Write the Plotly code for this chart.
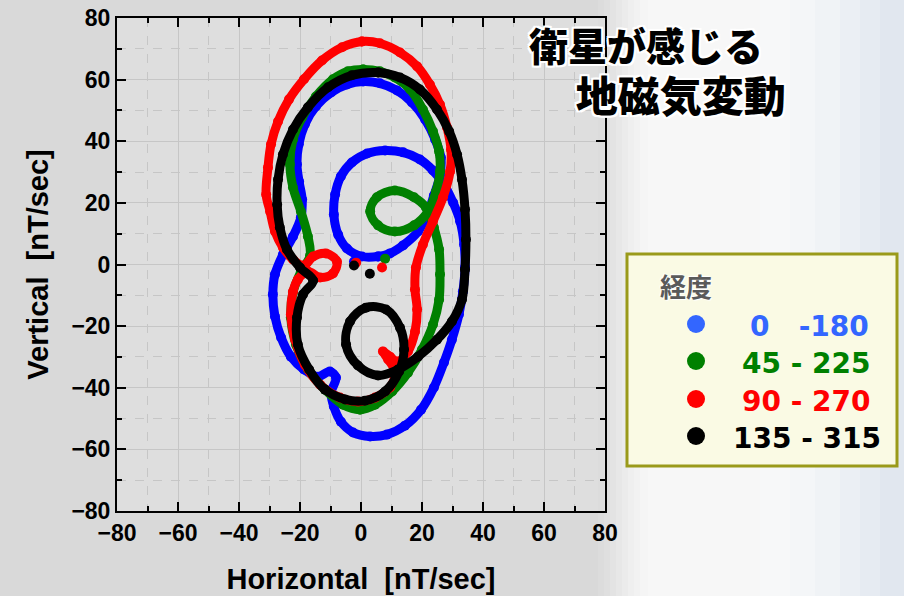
import plotly.graph_objects as go

# ---------------- data ----------------
blue_x = [5.6, 0.3, -4.6, -7.5, -8.9, -8.5, -6.6, -3.0, 2.0, 7.9, 13.8, 19.3, 23.6, 27.2, 30.2, 32.5, 33.8, 34.1,
          33.4, 32.1, 29.8, 27.2, 23.9, 19.7, 14.4, 8.5, 3.0, -2.6, -6.6, -8.9, -9.8, -8.2, -10.2, -14.1, -18.7,
          -23.0, -26.2, -28.2, -28.9, -28.2, -25.6, -22.3, -19.7, -19.3, -20.3, -21.0, -20.4, -18.4, -14.8, -9.8,
          -4.6, 0.7, 6.2, 11.8, 16.7, 21.0, 24.3, 26.2, 25.9, 23.9, 22.0, 18.7, 13.8, 9.5, 5.6]
blue_y = [2.6, 2.6, 5.2, 9.7, 16.2, 22.7, 28.6, 33.1, 36.0, 37.0, 36.4, 34.1, 30.5, 26.0, 20.1, 14.0, 6.5, -1.0,
          -8.8, -16.2, -24.4, -31.8, -39.9, -47.1, -52.3, -55.2, -55.8, -54.5, -51.0, -46.1, -41.6, -36.7, -34.7,
          -36.4, -34.1, -29.9, -23.7, -16.9, -9.7, -3.2, 3.2, 9.1, 15.3, 21.1, 26.9, 32.5, 39.0, 45.5, 51.3, 55.8,
          58.4, 59.4, 58.8, 56.5, 52.6, 47.1, 40.6, 34.7, 28.9, 22.4, 16.9, 10.7, 6.2, 3.6, 2.6]

green_x = [0.7, 6.2, 11.1, 16.1, 20.3, 23.6, 25.6, 25.9, 24.6, 22.0, 17.4, 11.1, 5.6, 3.0, 5.2, 11.1, 17.4, 21.3,
           23.9, 25.6, 25.9, 25.6, 23.6, 20.0, 15.4, 10.2, 4.6, -0.3, -5.9, -11.8, -17.4, -21.3, -23.0, -22.3,
           -19.7, -16.7, -17.4, -19.7, -22.3, -23.3, -22.3, -19.3, -14.8, -9.2, -4.3, 0.7]
green_y = [63.3, 62.7, 60.7, 56.8, 50.3, 43.2, 36.7, 30.2, 23.7, 17.2, 12.7, 10.7, 12.7, 17.2, 21.8, 24.0, 21.8,
           18.5, 12.0, 4.9, -3.2, -11.4, -19.5, -27.6, -35.1, -41.2, -45.5, -47.1, -45.5, -40.6, -34.1, -26.0,
           -17.2, -9.1, -2.3, 2.9, 9.1, 17.2, 25.0, 32.5, 40.6, 47.7, 54.5, 60.1, 62.7, 63.3]

red_x = [0.3, 6.2, 12.8, 18.4, 22.6, 25.9, 28.2, 29.5, 29.2, 26.9, 23.6, 20.3, 18.0, 17.7, 18.4, 17.7, 15.4, 12.1,
         9.5, 7.2, 8.9, 11.1, 9.5, 4.6, -1.0, -6.9, -13.4, -18.4, -21.6, -23.0, -22.3, -20.7, -17.4, -13.4, -9.2,
         -7.9, -11.5, -15.7, -18.7, -22.3, -25.6, -28.2, -29.8, -31.1, -30.5, -29.5, -27.2, -23.6, -18.7, -12.8,
         -6.2, 0.3]
red_y = [72.4, 71.8, 68.8, 64.3, 58.4, 51.9, 44.5, 37.3, 30.2, 21.8, 14.0, 6.5, -1.0, -8.1, -14.6, -21.8, -28.2,
         -31.5, -29.9, -28.2, -30.8, -34.7, -39.9, -43.2, -44.5, -43.2, -39.0, -32.5, -24.4, -16.2, -8.8, -4.9,
         -2.3, -4.2, -2.9, 1.0, 3.6, 2.6, -0.3, 1.6, 5.5, 10.7, 17.2, 22.7, 31.5, 39.0, 46.4, 53.6, 60.1, 66.2,
         70.5, 72.4]

black_x = [5.6, 12.8, 19.3, 24.9, 28.9, 31.5, 33.1, 34.1, 34.4, 34.1, 33.1, 29.8, 24.9, 18.7, 12.1, 5.6, -1.0,
           -4.9, -3.6, 1.6, 8.2, 12.8, 14.1, 12.5, 7.9, 1.3, -5.2, -11.8, -17.0, -20.7, -21.0, -19.0, -15.7, -20.0,
           -24.3, -26.6, -27.5, -27.2, -25.6, -22.3, -17.4, -10.8, -3.0, 5.6]
black_y = [62.3, 60.7, 56.8, 50.3, 43.2, 35.7, 27.6, 17.9, 8.1, -1.6, -11.4, -18.5, -24.4, -29.9, -34.1, -36.0,
           -32.8, -26.0, -18.5, -14.0, -14.6, -20.5, -27.6, -34.7, -41.2, -44.2, -43.8, -40.6, -34.1, -26.0, -17.2,
           -9.7, -5.2, -1.0, 4.9, 12.0, 19.5, 27.6, 35.7, 43.8, 51.0, 57.5, 61.4, 62.3]

# isolated single points near the origin
dot_x = {"blue": [-2.3], "green": [7.9], "red": [-1.6, 6.9], "black": [-2.3, 2.9]}
dot_y = {"blue": [1.0], "green": [1.9], "red": [0.6, -1.0], "black": [-0.3, -3.0]}

legend_labels = ["0\u00a0\u00a0\u00a0-180", "45 - 225", "90 - 270", "135 - 315"]
legend_title = "経度"
title_line1 = "衛星が感じる"
title_line2 = "地磁気変動"
tick_vals = [-80, -60, -40, -20, 0, 20, 40, 60, 80]

# ---------------- figure ----------------
W, H = 904, 596
L, R, T, B = 117, 605, 18, 511


def px(x, y):
    return (x - L) / (R - L), (B - y) / (B - T)


series = [
    ("blue", blue_x, blue_y, "#0000ff"),
    ("green", green_x, green_y, "#008000"),
    ("red", red_x, red_y, "#ff0000"),
    ("black", black_x, black_y, "#000000"),
]

fig = go.Figure()
for name, xs, ys, col in series:
    fig.add_trace(go.Scatter(
        x=xs, y=ys, mode="lines+markers",
        line=dict(color=col, width=9, shape="spline", smoothing=1.0),
        marker=dict(color=col, size=10),
        showlegend=False, hoverinfo="skip"))
for name, xs, ys, col in series:
    fig.add_trace(go.Scatter(
        x=dot_x[name], y=dot_y[name], mode="markers",
        marker=dict(color=col, size=10), showlegend=False, hoverinfo="skip"))

shapes = []
# right-side light background gradient
grad = [(598, "#dcdcdc"), (604, "#dfdfdf"), (610, "#e3e3e3"), (616, "#e7e7e7"), (622, "#ebebeb"),
        (628, "#efefef"), (634, "#f2f2f2"), (640, "#f5f5f5"), (648, "#f7f7f7"), (760, "#f7f8f9"),
        (790, "#f4f6f8"), (815, "#f0f3f6"), (840, "#ebeff4"), (860, "#e6ebf2"), (880, "#e1e7ef"),
        (904, "#dce3ed")]
for i in range(len(grad) - 1):
    x0, c = grad[i]
    x1 = grad[i + 1][0]
    a0, _ = px(x0, 0)
    a1, _ = px(x1 + 1, 0)
    shapes.append(dict(type="rect", xref="paper", yref="paper", x0=a0, x1=a1,
                       y0=px(0, H + 2)[1], y1=px(0, -2)[1], fillcolor=c, line=dict(width=0),
                       layer="below"))

# legend box
bx0, by0 = px(627, 466)
bx1, by1 = px(897, 254)
shapes.append(dict(type="rect", xref="paper", yref="paper", x0=bx0, y0=by0, x1=bx1, y1=by1,
                   fillcolor="#fafae4", line=dict(color="#9a9a1a", width=3), layer="above"))

dot_cols = ["#3366ff", "#008000", "#ff0000", "#000000"]
dot_rows = [324, 361, 399, 436]
text_left = [748, 740, 740, 731]
text_cols = ["#3366ff", "#008000", "#ff0000", "#000000"]
annotations = []
for lab, cy, dc, tl, tc in zip(legend_labels, dot_rows, dot_cols, text_left, text_cols):
    cx0, cy0 = px(696 - 9, cy + 9)
    cx1, cy1 = px(696 + 9, cy - 9)
    shapes.append(dict(type="circle", xref="paper", yref="paper", x0=cx0, y0=cy0, x1=cx1, y1=cy1,
                       fillcolor=dc, line=dict(width=0), layer="above"))
    ax, ay = px(tl, cy + 2)
    annotations.append(dict(xref="paper", yref="paper", x=ax, y=ay, xanchor="left", yanchor="middle",
                            text=lab, showarrow=False,
                            font=dict(family="DejaVu Sans", size=28, color=tc, weight="bold")))

ax, ay = px(686, 286)
annotations.append(dict(xref="paper", yref="paper", x=ax, y=ay, xanchor="center", yanchor="middle",
                        text=legend_title, showarrow=False,
                        font=dict(family="Noto Sans CJK JP", size=26, color="#5a5a5a", weight="bold",
                                  shadow="1px 1px 1px #ffffff, -1px -1px 1px #ffffff")))

halo = ("2px 0 0 #fff, -2px 0 0 #fff, 0 2px 0 #fff, 0 -2px 0 #fff, "
        "2px 2px 0 #fff, -2px -2px 0 #fff, 2px -2px 0 #fff, -2px 2px 0 #fff")
title_text = title_line1 + "<br>\u3000\u2009<span style='font-size:42px'>" + title_line2 + "</span>"
ax, ay = px(527, 14)
annotations.append(dict(xref="paper", yref="paper", x=ax, y=ay, xanchor="left", yanchor="top",
                        align="left", text=title_text, showarrow=False,
                        font=dict(family="Noto Sans CJK JP", size=39, color="#000000", weight=900,
                                  shadow=halo)))

axis_common = dict(
    range=[-80, 80], tickmode="array", tickvals=tick_vals,
    ticktext=[str(v).replace("-", "\u2212") for v in tick_vals],
    ticks="inside", ticklen=9, tickwidth=2, tickcolor="#000000",
    showline=True, linewidth=2, linecolor="#000000", mirror="ticks",
    showgrid=True, gridcolor="#c6c6c6", gridwidth=1, zeroline=False, automargin=False,
    minor=dict(dtick=10, tick0=0, ticks="inside", ticklen=5, tickwidth=1.5, tickcolor="#000000",
               showgrid=True, gridcolor="#c6c6c6", griddash="dash", gridwidth=1),
    tickfont=dict(family="Liberation Sans", size=23, color="#000000", weight="bold"),
)

fig.update_layout(
    width=W, height=H,
    margin=dict(l=L, r=W - R, t=T, b=H - B, pad=0),
    paper_bgcolor="#d9d9d9", plot_bgcolor="#dedede",
    xaxis=dict(axis_common, title=dict(text="Horizontal\u00a0\u00a0[nT/sec]", standoff=24,
                                       font=dict(family="Liberation Sans", size=29, color="#000000",
                                                 weight="bold"))),
    yaxis=dict(axis_common, title=dict(text="Vertical\u00a0\u00a0[nT/sec]", standoff=14,
                                       font=dict(family="Liberation Sans", size=29, color="#000000",
                                                 weight="bold"))),
    shapes=shapes, annotations=annotations, showlegend=False,
)

fig.write_html("out.html", config={"displayModeBar": False},
               post_script="document.body.style.margin='0';document.body.style.padding='0';"
                           "document.body.style.overflow='hidden';")
